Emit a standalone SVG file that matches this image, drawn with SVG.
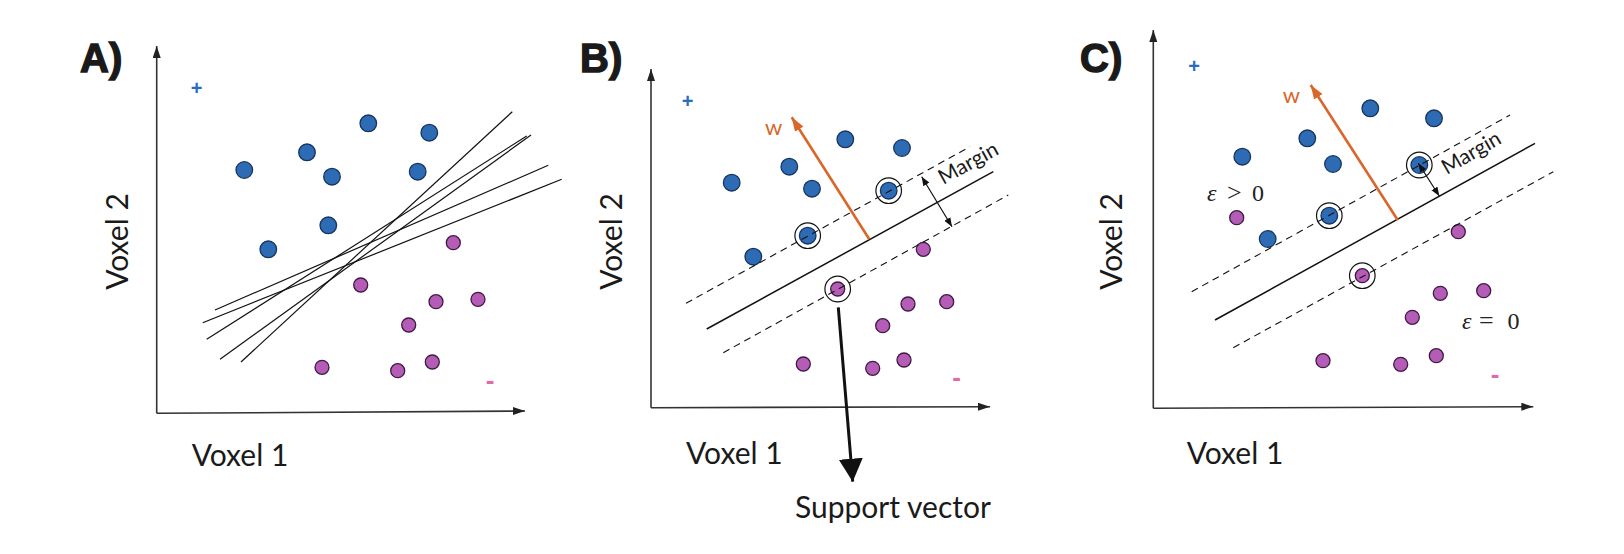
<svg xmlns="http://www.w3.org/2000/svg" width="1624" height="554" viewBox="0 0 1624 554">
<style>
.bg{fill:#ffffff}
.panel{font-family:"Liberation Sans",Arial,sans-serif;font-weight:bold;font-size:40px;fill:#1a1a1a;stroke:#1a1a1a;stroke-width:1.4}
.axl{font-family:Lato,"Open Sans",sans-serif;font-size:30px;fill:#1a1a1a}
.axis{stroke:#333;stroke-width:1.6;fill:none}
.pos{fill:#2e6bb5;stroke:#16355e;stroke-width:1.3}
.neg{fill:#b45cb6;stroke:#3e1a44;stroke-width:1.3}
.ring{fill:none;stroke:#111;stroke-width:1.2}
.plus{font-family:"Liberation Sans",Arial,sans-serif;font-weight:bold;font-size:20px;fill:#2a6cc0}
.minus{font-family:"Liberation Sans",Arial,sans-serif;font-weight:bold;font-size:26px;fill:#e06aa8}
.hyp{stroke:#111;stroke-width:1.2;fill:none}
.solid{stroke:#111;stroke-width:1.5;fill:none}
.dash{stroke:#111;stroke-width:1.1;fill:none;stroke-dasharray:7 5}
.w{stroke:#d9662a;stroke-width:2.6;fill:none}
.wl{font-family:Lato,"Open Sans",sans-serif;font-size:22px;fill:#d9662a}
.marg{font-family:Lato,"Open Sans",sans-serif;font-size:21px;fill:#1a1a1a}
.marr{stroke:#111;stroke-width:1.2;fill:none}
.eps{font-family:"Liberation Serif","Times New Roman",serif;font-size:24px;fill:#222}
.op{font-size:26px}
.sv{stroke:#111;stroke-width:3;fill:none}
</style>
<defs>
<marker id="axh" markerUnits="userSpaceOnUse" markerWidth="13" markerHeight="9" refX="12" refY="4" orient="auto"><path d="M0,0 L12,4 L0,8 z" fill="#222"/></marker>
<marker id="wh" markerUnits="userSpaceOnUse" markerWidth="15" markerHeight="11" refX="14" refY="5" orient="auto"><path d="M0,0 L14,5 L0,10 z" fill="#d9662a"/></marker>
<marker id="mh" markerUnits="userSpaceOnUse" markerWidth="10" markerHeight="8" refX="9" refY="3.5" orient="auto-start-reverse"><path d="M0,0 L9,3.5 L0,7 z" fill="#111"/></marker>
<marker id="svh" markerUnits="userSpaceOnUse" markerWidth="25" markerHeight="25" refX="23" refY="12" orient="auto"><path d="M0,0 L23,12 L0,24 z" fill="#111"/></marker>
</defs>
<rect class="bg" x="0" y="0" width="1624" height="554"/>

<!-- Panel A -->
<g id="panelA">
  <text class="panel" x="80" y="72">A)</text>
  <g id="A-axes">
    <line class="axis" x1="156.7" y1="413.3" x2="156.7" y2="46" marker-end="url(#axh)"/>
    <line class="axis" x1="156.7" y1="413.3" x2="525" y2="411" marker-end="url(#axh)"/>
  </g>
  <text class="axl" transform="translate(128,241.5) rotate(-90)" text-anchor="middle">Voxel 2</text>
  <text class="axl" x="191.7" y="466">Voxel 1</text>
  <text class="plus" x="196.7" y="95.3" text-anchor="middle">+</text>
  <text class="minus" x="490" y="389" text-anchor="middle">-</text>
  <g id="A-pos1"><circle class="pos" cx="244.3" cy="170" r="8.3"/></g>
  <g id="A-pos2"><circle class="pos" cx="307" cy="152.3" r="8.3"/></g>
  <g id="A-pos3"><circle class="pos" cx="332" cy="176.7" r="8.3"/></g>
  <g id="A-pos4"><circle class="pos" cx="368.3" cy="123.3" r="8.3"/></g>
  <g id="A-pos5"><circle class="pos" cx="429.3" cy="132.7" r="8.3"/></g>
  <g id="A-pos6"><circle class="pos" cx="417.7" cy="171.7" r="8.3"/></g>
  <g id="A-pos7"><circle class="pos" cx="328.3" cy="225.3" r="8.3"/></g>
  <g id="A-pos8"><circle class="pos" cx="268.3" cy="249.3" r="8.3"/></g>
  <g id="A-neg1"><circle class="neg" cx="453.3" cy="242.7" r="7"/></g>
  <g id="A-neg2"><circle class="neg" cx="360.7" cy="285" r="7"/></g>
  <g id="A-neg3"><circle class="neg" cx="436" cy="301.7" r="7"/></g>
  <g id="A-neg4"><circle class="neg" cx="478" cy="299.3" r="7"/></g>
  <g id="A-neg5"><circle class="neg" cx="408.7" cy="325" r="7"/></g>
  <g id="A-neg6"><circle class="neg" cx="322" cy="367.3" r="7"/></g>
  <g id="A-neg7"><circle class="neg" cx="397.7" cy="370.7" r="7"/></g>
  <g id="A-neg8"><circle class="neg" cx="432.3" cy="362" r="7"/></g>
</g>

<!-- Panel B -->
<g id="panelB">
  <text class="panel" x="580" y="72">B)</text>
  <g id="B-axes">
    <line class="axis" x1="651" y1="407.7" x2="651" y2="69" marker-end="url(#axh)"/>
    <line class="axis" x1="651" y1="407.7" x2="990" y2="406.7" marker-end="url(#axh)"/>
  </g>
  <text class="axl" transform="translate(621.7,241.5) rotate(-90)" text-anchor="middle">Voxel 2</text>
  <text class="axl" x="686" y="464">Voxel 1</text>
  <text class="plus" x="687.7" y="108" text-anchor="middle">+</text>
  <text class="minus" x="956.7" y="386" text-anchor="middle">-</text>
  <g id="B-pos1"><circle class="pos" cx="731.7" cy="182.7" r="8.3"/></g>
  <g id="B-pos2"><circle class="pos" cx="789.3" cy="166.7" r="8.3"/></g>
  <g id="B-pos3"><circle class="pos" cx="812" cy="188.7" r="8.3"/></g>
  <g id="B-pos4"><circle class="pos" cx="845.3" cy="139.3" r="8.3"/></g>
  <g id="B-pos5"><circle class="pos" cx="902" cy="148" r="8.3"/></g>
  <g id="B-pos6"><circle class="pos" cx="753.3" cy="256.7" r="8.3"/></g>
  <g id="B-pos7"><circle class="pos" cx="807.7" cy="235.7" r="8.3"/><circle class="ring" cx="807.7" cy="235.7" r="12.8"/></g>
  <g id="B-pos8"><circle class="pos" cx="888.7" cy="190.7" r="8.3"/><circle class="ring" cx="888.7" cy="190.7" r="12.8"/></g>
  <g id="B-neg1"><circle class="neg" cx="837.7" cy="289" r="7"/><circle class="ring" cx="837.7" cy="289" r="12.8"/></g>
  <g id="B-neg2"><circle class="neg" cx="923.3" cy="249.3" r="7"/></g>
  <g id="B-neg3"><circle class="neg" cx="908" cy="304" r="7"/></g>
  <g id="B-neg4"><circle class="neg" cx="946.7" cy="301.7" r="7"/></g>
  <g id="B-neg5"><circle class="neg" cx="882.7" cy="325.7" r="7"/></g>
  <g id="B-neg6"><circle class="neg" cx="803.3" cy="364" r="7"/></g>
  <g id="B-neg7"><circle class="neg" cx="872.7" cy="368.3" r="7"/></g>
  <g id="B-neg8"><circle class="neg" cx="904" cy="360" r="7"/></g>
  <text class="wl" x="765" y="135">w</text>
  <text class="marg" transform="translate(943.3,185) rotate(-29)">Margin</text>
  <text class="axl" x="795" y="518">Support vector</text>
</g>

<!-- Panel C -->
<g id="panelC">
  <text class="panel" x="1080" y="72">C)</text>
  <g id="C-axes">
    <line class="axis" x1="1153.3" y1="408.3" x2="1153.3" y2="30" marker-end="url(#axh)"/>
    <line class="axis" x1="1153.3" y1="408.3" x2="1533.3" y2="406.7" marker-end="url(#axh)"/>
  </g>
  <text class="axl" transform="translate(1121.7,241.5) rotate(-90)" text-anchor="middle">Voxel 2</text>
  <text class="axl" x="1186.7" y="464">Voxel 1</text>
  <text class="plus" x="1194" y="73" text-anchor="middle">+</text>
  <text class="minus" x="1495" y="383" text-anchor="middle">-</text>
  <g id="C-pos1"><circle class="pos" cx="1242.3" cy="156.7" r="8.3"/></g>
  <g id="C-pos2"><circle class="pos" cx="1307.3" cy="138.3" r="8.3"/></g>
  <g id="C-pos3"><circle class="pos" cx="1333" cy="164" r="8.3"/></g>
  <g id="C-pos4"><circle class="pos" cx="1370.3" cy="108.3" r="8.3"/></g>
  <g id="C-pos5"><circle class="pos" cx="1434" cy="118.3" r="8.3"/></g>
  <g id="C-pos6"><circle class="pos" cx="1267.7" cy="239" r="8.3"/></g>
  <g id="C-pos7"><circle class="pos" cx="1329.3" cy="215.7" r="8.3"/><circle class="ring" cx="1329.3" cy="215.7" r="12.8"/></g>
  <g id="C-pos8"><circle class="pos" cx="1419.3" cy="165" r="8.3"/><circle class="ring" cx="1419.3" cy="165" r="12.8"/></g>
  <g id="C-neg1"><circle class="neg" cx="1236.7" cy="217.7" r="7"/></g>
  <g id="C-neg2"><circle class="neg" cx="1362.3" cy="275.7" r="7"/><circle class="ring" cx="1362.3" cy="275.7" r="12.8"/></g>
  <g id="C-neg3"><circle class="neg" cx="1458.3" cy="231.7" r="7"/></g>
  <g id="C-neg4"><circle class="neg" cx="1440.3" cy="293.3" r="7"/></g>
  <g id="C-neg5"><circle class="neg" cx="1483.7" cy="290.7" r="7"/></g>
  <g id="C-neg6"><circle class="neg" cx="1412.3" cy="317.3" r="7"/></g>
  <g id="C-neg7"><circle class="neg" cx="1323" cy="360.7" r="7"/></g>
  <g id="C-neg8"><circle class="neg" cx="1400.7" cy="364.3" r="7"/></g>
  <g id="C-neg9"><circle class="neg" cx="1436.3" cy="355.7" r="7"/></g>
  <text class="wl" x="1282.7" y="102.7">w</text>
  <text class="marg" transform="translate(1446.7,175) rotate(-30)">Margin</text>
  <text class="eps"><tspan x="1207" y="200.5" font-style="italic">ε</tspan><tspan class="op" x="1227" y="200.5">&gt;</tspan><tspan x="1252" y="200.5">0</tspan></text>
  <text class="eps"><tspan x="1462" y="328.5" font-style="italic">ε</tspan><tspan class="op" x="1479" y="328.5">=</tspan><tspan x="1507.5" y="328.5">0</tspan></text>
</g>

<!-- Connectors -->
<g id="connectors">
  <line class="hyp" x1="215" y1="310" x2="548.3" y2="165.3"/>
  <line class="hyp" x1="202.7" y1="322.7" x2="561.7" y2="179.3"/>
  <line class="hyp" x1="206.7" y1="339.3" x2="526.7" y2="136"/>
  <line class="hyp" x1="220" y1="359.3" x2="531" y2="135"/>
  <line class="hyp" x1="241" y1="362" x2="512.3" y2="111.7"/>

  <line class="solid" x1="706.7" y1="329" x2="993.3" y2="171.7"/>
  <line class="dash" x1="686" y1="303.3" x2="970" y2="146.7"/>
  <line class="dash" x1="723.3" y1="352.7" x2="1008.3" y2="195"/>
  <line class="w" x1="869.3" y1="239.3" x2="791.7" y2="117.3" marker-end="url(#wh)"/>
  <line class="marr" x1="921.7" y1="176.7" x2="952" y2="226.7" marker-start="url(#mh)" marker-end="url(#mh)"/>
  <line class="sv" x1="838.3" y1="307.3" x2="852.7" y2="481.7" marker-end="url(#svh)"/>

  <line class="solid" x1="1215" y1="320" x2="1535" y2="143.3"/>
  <line class="dash" x1="1191.7" y1="291.7" x2="1510" y2="115"/>
  <line class="dash" x1="1233.3" y1="347.7" x2="1553.3" y2="171.7"/>
  <line class="w" x1="1397.7" y1="220" x2="1310.7" y2="85" marker-end="url(#wh)"/>
  <line class="marr" x1="1418.3" y1="163.3" x2="1439.3" y2="196" marker-start="url(#mh)" marker-end="url(#mh)"/>
</g>
</svg>
